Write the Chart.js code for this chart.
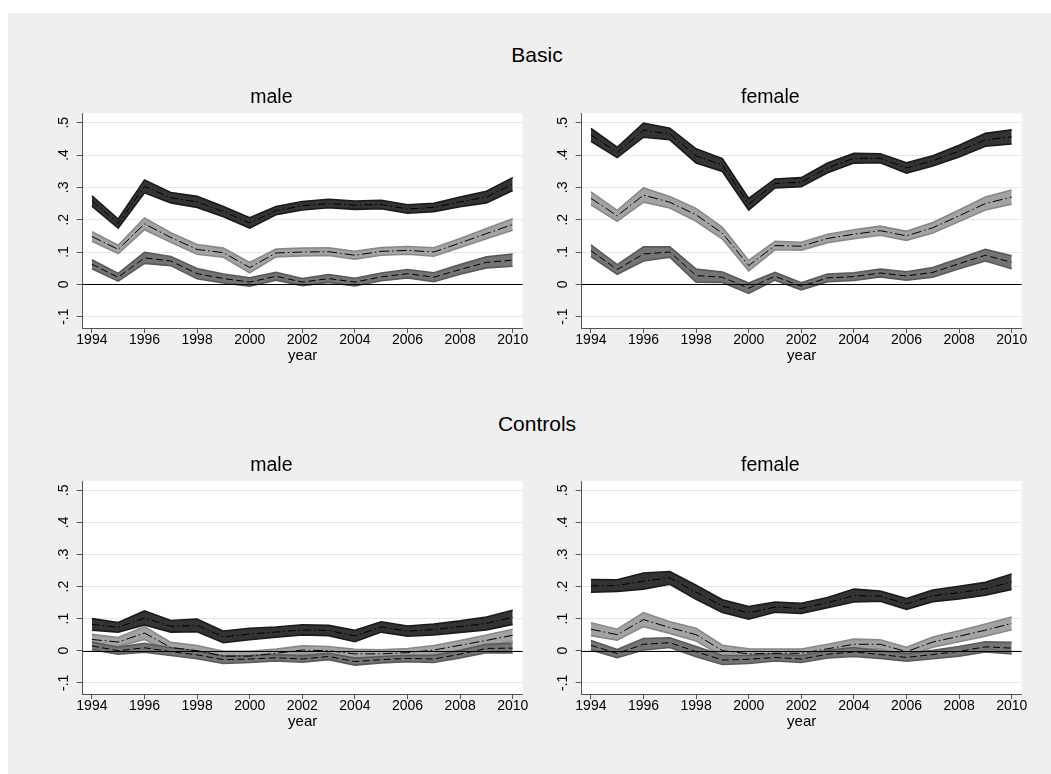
<!DOCTYPE html>
<html>
<head>
<meta charset="utf-8">
<script src="https://cdn.jsdelivr.net/npm/chart.js@4.4.1/dist/chart.umd.min.js"></script>
<style>
  html, body { margin: 0; padding: 0; background: #fff; }
  #page { position: relative; width: 1051px; height: 774px; overflow: hidden; background: #fff; }
  #region { position: absolute; left: 8px; top: 13px; right: 0; bottom: 0; background: #efefef; }
  canvas { position: absolute; }
  .head { position: absolute; width: 400px; text-align: center; color: #000;
          font-family: "Liberation Sans", Arial, Helvetica, sans-serif; font-size: 21px; line-height: 21px; }
</style>
</head>
<body>
<div id="page">
  <div id="region"></div>
  <div class="head" style="left:337px; top:44px;">Basic</div>
  <div class="head" style="left:337px; top:413px;">Controls</div>
  <canvas id="basicMale" width="530" height="300" style="left:20px; top:75px;"></canvas>
  <canvas id="basicFemale" width="530" height="300" style="left:519px; top:75px;"></canvas>
  <canvas id="controlsMale" width="530" height="298" style="left:20px; top:443px;"></canvas>
  <canvas id="controlsFemale" width="530" height="298" style="left:519px; top:443px;"></canvas>
</div>
<script>
// ---- data ----
const years = [1994, 1995, 1996, 1997, 1998, 1999, 2000, 2001, 2002, 2003, 2004, 2005, 2006, 2007, 2008, 2009, 2010];
const xTickYears = [1994, 1996, 1998, 2000, 2002, 2004, 2006, 2008, 2010];
const yTickValues = [-0.1, 0, 0.1, 0.2, 0.3, 0.4, 0.5];
const yTickLabels = ['-.1', '0', '.1', '.2', '.3', '.4', '.5'];

// Basic, male
const basicMale1Est = [0.258, 0.188, 0.303, 0.268, 0.255, 0.225, 0.190, 0.228, 0.243, 0.250, 0.245, 0.247, 0.233, 0.238, 0.255, 0.270, 0.310];
const basicMale1Lo  = [0.242, 0.174, 0.283, 0.252, 0.238, 0.209, 0.174, 0.215, 0.230, 0.237, 0.232, 0.234, 0.220, 0.225, 0.240, 0.252, 0.290];
const basicMale1Hi  = [0.274, 0.202, 0.323, 0.284, 0.272, 0.241, 0.206, 0.241, 0.256, 0.263, 0.258, 0.260, 0.246, 0.251, 0.270, 0.288, 0.330];
const basicMale2Est = [0.148, 0.108, 0.187, 0.145, 0.108, 0.098, 0.052, 0.097, 0.100, 0.101, 0.090, 0.102, 0.105, 0.100, 0.128, 0.157, 0.185];
const basicMale2Lo  = [0.133, 0.095, 0.169, 0.130, 0.093, 0.084, 0.036, 0.085, 0.088, 0.089, 0.078, 0.090, 0.093, 0.087, 0.114, 0.141, 0.167];
const basicMale2Hi  = [0.163, 0.121, 0.205, 0.160, 0.123, 0.112, 0.068, 0.109, 0.112, 0.113, 0.102, 0.114, 0.117, 0.113, 0.142, 0.173, 0.203];
const basicMale3Est = [0.062, 0.022, 0.082, 0.072, 0.033, 0.018, 0.007, 0.025, 0.007, 0.018, 0.007, 0.023, 0.033, 0.022, 0.046, 0.068, 0.075];
const basicMale3Lo  = [0.048, 0.010, 0.065, 0.058, 0.017, 0.004, -0.006, 0.013, -0.004, 0.006, -0.005, 0.011, 0.020, 0.008, 0.031, 0.051, 0.056];
const basicMale3Hi  = [0.076, 0.034, 0.099, 0.086, 0.049, 0.032, 0.020, 0.037, 0.018, 0.030, 0.019, 0.035, 0.046, 0.036, 0.061, 0.085, 0.094];

// Basic, female
const basicFemale1Est = [0.462, 0.408, 0.477, 0.465, 0.397, 0.369, 0.248, 0.312, 0.316, 0.360, 0.390, 0.390, 0.360, 0.382, 0.412, 0.447, 0.456];
const basicFemale1Lo  = [0.442, 0.392, 0.455, 0.447, 0.375, 0.349, 0.230, 0.298, 0.302, 0.345, 0.375, 0.376, 0.344, 0.366, 0.394, 0.427, 0.434];
const basicFemale1Hi  = [0.482, 0.424, 0.499, 0.483, 0.419, 0.389, 0.266, 0.326, 0.330, 0.375, 0.405, 0.404, 0.376, 0.398, 0.430, 0.467, 0.478];
const basicFemale2Est = [0.266, 0.212, 0.276, 0.254, 0.215, 0.158, 0.058, 0.120, 0.118, 0.142, 0.155, 0.166, 0.150, 0.175, 0.212, 0.250, 0.270];
const basicFemale2Lo  = [0.246, 0.195, 0.254, 0.236, 0.195, 0.140, 0.042, 0.107, 0.106, 0.129, 0.141, 0.152, 0.136, 0.159, 0.194, 0.230, 0.248];
const basicFemale2Hi  = [0.286, 0.229, 0.298, 0.272, 0.235, 0.176, 0.074, 0.133, 0.130, 0.155, 0.169, 0.180, 0.164, 0.191, 0.230, 0.270, 0.292];
const basicFemale3Est = [0.104, 0.046, 0.094, 0.100, 0.027, 0.022, -0.012, 0.025, -0.006, 0.020, 0.024, 0.035, 0.026, 0.037, 0.064, 0.090, 0.068];
const basicFemale3Lo  = [0.086, 0.031, 0.072, 0.084, 0.007, 0.006, -0.028, 0.013, -0.017, 0.008, 0.012, 0.023, 0.013, 0.022, 0.048, 0.072, 0.048];
const basicFemale3Hi  = [0.122, 0.061, 0.116, 0.116, 0.047, 0.038, 0.004, 0.037, 0.005, 0.032, 0.036, 0.047, 0.039, 0.052, 0.080, 0.108, 0.088];

// Controls, male
const controlsMale1Est = [0.082, 0.073, 0.102, 0.076, 0.079, 0.043, 0.052, 0.058, 0.065, 0.063, 0.046, 0.074, 0.061, 0.066, 0.075, 0.085, 0.104];
const controlsMale1Lo  = [0.064, 0.058, 0.080, 0.058, 0.059, 0.025, 0.034, 0.042, 0.049, 0.047, 0.028, 0.058, 0.045, 0.049, 0.057, 0.065, 0.082];
const controlsMale1Hi  = [0.100, 0.088, 0.124, 0.094, 0.099, 0.061, 0.070, 0.074, 0.081, 0.079, 0.064, 0.090, 0.077, 0.083, 0.093, 0.105, 0.126];
const controlsMale2Est = [0.035, 0.027, 0.055, 0.010, 0.000, -0.017, -0.017, -0.008, 0.002, 0.000, -0.010, -0.010, -0.006, 0.002, 0.017, 0.032, 0.048];
const controlsMale2Lo  = [0.019, 0.013, 0.035, -0.006, -0.016, -0.032, -0.032, -0.021, -0.011, -0.013, -0.024, -0.023, -0.019, -0.012, 0.002, 0.015, 0.029];
const controlsMale2Hi  = [0.051, 0.041, 0.075, 0.026, 0.016, -0.002, -0.002, 0.005, 0.015, 0.013, 0.004, 0.003, 0.007, 0.016, 0.032, 0.049, 0.067];
const controlsMale3Est = [0.015, 0.000, 0.009, -0.003, -0.013, -0.028, -0.026, -0.022, -0.026, -0.018, -0.034, -0.028, -0.024, -0.026, -0.011, 0.007, 0.008];
const controlsMale3Lo  = [0.003, -0.011, -0.005, -0.015, -0.025, -0.040, -0.037, -0.032, -0.036, -0.028, -0.045, -0.038, -0.034, -0.037, -0.023, -0.006, -0.007];
const controlsMale3Hi  = [0.027, 0.011, 0.023, 0.009, -0.001, -0.016, -0.015, -0.012, -0.016, -0.008, -0.023, -0.018, -0.014, -0.015, 0.001, 0.020, 0.023];

// Controls, female
const controlsFemale1Est = [0.202, 0.203, 0.217, 0.227, 0.182, 0.139, 0.118, 0.136, 0.132, 0.150, 0.172, 0.170, 0.146, 0.171, 0.181, 0.193, 0.215];
const controlsFemale1Lo  = [0.182, 0.185, 0.192, 0.207, 0.160, 0.119, 0.098, 0.120, 0.116, 0.134, 0.152, 0.154, 0.129, 0.153, 0.161, 0.173, 0.191];
const controlsFemale1Hi  = [0.222, 0.221, 0.242, 0.247, 0.204, 0.159, 0.138, 0.152, 0.148, 0.166, 0.192, 0.186, 0.163, 0.189, 0.201, 0.213, 0.239];
const controlsFemale2Est = [0.067, 0.050, 0.097, 0.072, 0.050, 0.000, -0.010, -0.008, -0.008, 0.006, 0.020, 0.020, -0.003, 0.027, 0.045, 0.064, 0.085];
const controlsFemale2Lo  = [0.047, 0.033, 0.075, 0.054, 0.030, -0.017, -0.026, -0.021, -0.021, -0.008, 0.004, 0.006, -0.017, 0.011, 0.028, 0.045, 0.065];
const controlsFemale2Hi  = [0.087, 0.067, 0.119, 0.090, 0.070, 0.017, 0.006, 0.005, 0.005, 0.020, 0.036, 0.034, 0.011, 0.043, 0.062, 0.083, 0.105];
const controlsFemale3Est = [0.017, -0.009, 0.020, 0.025, -0.003, -0.029, -0.027, -0.021, -0.026, -0.011, -0.004, -0.012, -0.021, -0.012, -0.002, 0.012, 0.008];
const controlsFemale3Lo  = [0.002, -0.022, 0.002, 0.010, -0.019, -0.043, -0.040, -0.032, -0.037, -0.023, -0.018, -0.024, -0.033, -0.025, -0.017, -0.004, -0.010];
const controlsFemale3Hi  = [0.032, 0.004, 0.038, 0.040, 0.013, -0.015, -0.014, -0.010, -0.015, 0.001, 0.010, 0.000, -0.009, 0.001, 0.013, 0.028, 0.026];

// ---- styling ----
const FONT = '"Liberation Sans", Arial, Helvetica, sans-serif';
const bandStyles = [
  { fill: '#333333', edge: '#1a1a1a', dash: [8, 3, 1.5, 3] },
  { fill: '#a3a3a3', edge: '#898989', dash: [10, 3, 1.5, 3] },
  { fill: '#747474', edge: '#5a5a5a', dash: [7, 3.5] }
];

const toPoints = vals => years.map((x, i) => ({ x: x, y: vals[i] }));

// white plotting region
const plotBackground = {
  id: 'plotBackground',
  beforeDraw(chart) {
    const a = chart.chartArea, ctx = chart.ctx;
    ctx.save();
    ctx.fillStyle = '#ffffff';
    ctx.fillRect(a.left, a.top, a.right - a.left, a.bottom - a.top);
    ctx.restore();
  }
};

// reference line at y = 0, drawn over the bands
const zeroLine = {
  id: 'zeroLine',
  afterDatasetsDraw(chart) {
    const a = chart.chartArea, ctx = chart.ctx;
    const y = Math.round(chart.scales.y.getPixelForValue(0)) + 0.5;
    ctx.save();
    ctx.strokeStyle = '#000000';
    ctx.lineWidth = 1;
    ctx.beginPath();
    ctx.moveTo(a.left, y);
    ctx.lineTo(a.right, y);
    ctx.stroke();
    ctx.restore();
  }
};

function buildPanel(canvasId, title, titlePadTop, series) {
  const datasets = [];
  // confidence bands: upper edge, then lower edge filled back to it
  series.forEach((s, k) => {
    const st = bandStyles[k];
    datasets.push({ data: toPoints(s.hi), borderColor: st.edge, borderWidth: 1.6, fill: false, order: 20 - 2 * k });
    datasets.push({ data: toPoints(s.lo), borderColor: st.edge, borderWidth: 1.6, backgroundColor: st.fill, fill: '-1', order: 21 - 2 * k });
  });
  // point estimates
  series.forEach((s, k) => {
    datasets.push({ data: toPoints(s.est), borderColor: '#000000', borderWidth: 1, borderDash: bandStyles[k].dash, fill: false, order: k });
  });

  return new Chart(document.getElementById(canvasId), {
    type: 'line',
    data: { datasets: datasets },
    options: {
      responsive: false,
      animation: false,
      events: [],
      layout: { padding: { left: 0, top: 0, right: 27.3, bottom: 7 } },
      elements: { point: { radius: 0 }, line: { tension: 0 } },
      plugins: {
        legend: { display: false },
        tooltip: { enabled: false },
        title: {
          display: true, text: title, color: '#000000',
          font: { family: FONT, size: 19.5, weight: 'normal', lineHeight: 1.2 },
          padding: { top: titlePadTop, bottom: 3.6 }
        }
      },
      scales: {
        x: {
          type: 'linear', min: 1993.65, max: 2010.38,
          afterBuildTicks: axis => { axis.ticks = xTickYears.map(v => ({ value: v })); },
          afterFit: axis => { axis.height = 40; },
          ticks: {
            color: '#000000', padding: 0, maxRotation: 0, minRotation: 0, autoSkip: false,
            font: { family: FONT, size: 14, lineHeight: 1 },
            callback: v => String(v)
          },
          grid: { drawOnChartArea: false, drawTicks: true, tickLength: 5, color: '#555555' },
          border: { display: true, color: '#555555', width: 1 },
          title: {
            display: true, text: 'year', color: '#000000',
            font: { family: FONT, size: 15, lineHeight: 1 },
            padding: { top: 0, bottom: 5 }
          }
        },
        y: {
          type: 'linear', min: -0.135, max: 0.529,
          afterBuildTicks: axis => { axis.ticks = yTickValues.map(v => ({ value: v })); },
          afterFit: axis => { axis.width = 62.7; },
          ticks: {
            color: '#000000', padding: 4.5, minRotation: 90, maxRotation: 90, crossAlign: 'center',
            font: { family: FONT, size: 14 },
            callback: (v, i) => yTickLabels[i]
          },
          grid: { color: '#e6e6e6', tickColor: '#555555', tickLength: 6, drawTicks: true },
          border: { display: true, color: '#555555', width: 1 }
        }
      }
    },
    plugins: [plotBackground, zeroLine]
  });
}

buildPanel('basicMale', 'male', 11.3, [
  { est: basicMale1Est, lo: basicMale1Lo, hi: basicMale1Hi },
  { est: basicMale2Est, lo: basicMale2Lo, hi: basicMale2Hi },
  { est: basicMale3Est, lo: basicMale3Lo, hi: basicMale3Hi }
]);
buildPanel('basicFemale', 'female', 11.3, [
  { est: basicFemale1Est, lo: basicFemale1Lo, hi: basicFemale1Hi },
  { est: basicFemale2Est, lo: basicFemale2Lo, hi: basicFemale2Hi },
  { est: basicFemale3Est, lo: basicFemale3Lo, hi: basicFemale3Hi }
]);
buildPanel('controlsMale', 'male', 11, [
  { est: controlsMale1Est, lo: controlsMale1Lo, hi: controlsMale1Hi },
  { est: controlsMale2Est, lo: controlsMale2Lo, hi: controlsMale2Hi },
  { est: controlsMale3Est, lo: controlsMale3Lo, hi: controlsMale3Hi }
]);
buildPanel('controlsFemale', 'female', 11, [
  { est: controlsFemale1Est, lo: controlsFemale1Lo, hi: controlsFemale1Hi },
  { est: controlsFemale2Est, lo: controlsFemale2Lo, hi: controlsFemale2Hi },
  { est: controlsFemale3Est, lo: controlsFemale3Lo, hi: controlsFemale3Hi }
]);
</script>
</body>
</html>
